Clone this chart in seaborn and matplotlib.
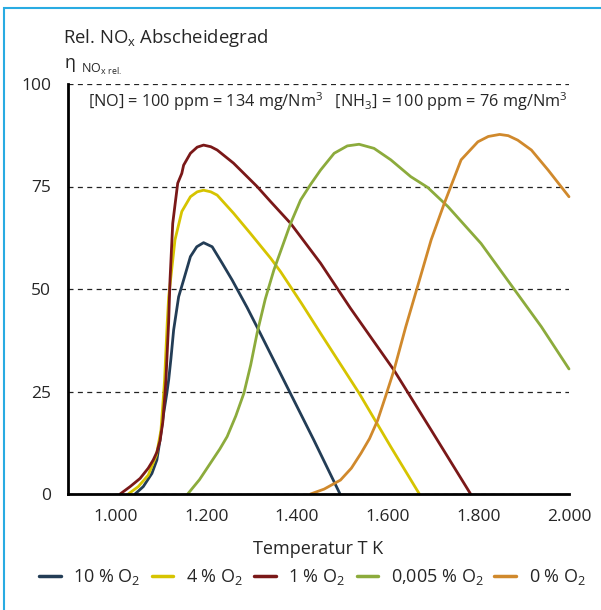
import pandas as pd
import matplotlib.pyplot as plt
import seaborn as sns
from matplotlib.patches import Rectangle

# values (temperature in K, relative NOx removal in %)
t_10 = [1043, 1061, 1080, 1091, 1098, 1106, 1113, 1117, 1122, 1128, 1139, 1150, 1165, 1179, 1194,
        1213, 1235, 1257, 1290, 1319, 1378, 1437, 1495]
eta_10 = [0, 1.8, 5.0, 8.3, 13.2, 19.7, 24.6, 27.8, 33.0, 40.0, 48.1, 52.2, 57.9, 60.3, 61.3,
          60.3, 56.3, 52.2, 45.5, 39.2, 26.2, 13.2, 0]

t_4 = [1028, 1050, 1072, 1090, 1100, 1106, 1108, 1111, 1114, 1117, 1122, 1131, 1146, 1165, 1180, 1194,
       1210, 1224, 1260, 1297, 1342, 1364, 1410, 1452, 1537, 1607, 1670]
eta_4 = [0, 1.8, 4.6, 9.5, 15.5, 24.6, 27.8, 35.0, 42.0, 48.0, 53.0, 62.0, 68.9, 72.5, 73.7, 74.1,
         73.7, 72.9, 68.5, 63.6, 57.5, 54.2, 46.5, 39.2, 24.6, 11.5, 0]

t_1 = [1010, 1032, 1054, 1072, 1083, 1091, 1098, 1104, 1109, 1111, 1114, 1117, 1120, 1126, 1131, 1137, 1146,
       1150, 1165, 1180, 1194, 1210, 1224, 1260, 1312, 1342, 1386, 1452, 1518, 1614, 1696, 1783]
eta_1 = [0, 1.8, 3.8, 6.3, 8.3, 10.2, 13.0, 17.5, 24.6, 27.8, 35.0, 42.0, 52.2, 66.0, 70.5, 75.8, 78.2,
         80.2, 83.1, 84.6, 85.1, 84.7, 83.9, 80.7, 75.0, 71.3, 66.0, 56.3, 45.3, 30.2, 15.6, 0]

t_005 = [1159, 1185, 1209, 1230, 1246, 1265, 1283, 1298, 1312, 1330, 1349, 1386, 1408, 1430, 1452,
         1482, 1511, 1537, 1570, 1607, 1651, 1688, 1733, 1806, 1880, 1939, 2000]
eta_005 = [0, 3.5, 7.5, 11.0, 14.0, 19.0, 24.6, 31.5, 39.2, 47.5, 54.6, 66.0, 71.7, 75.5, 79.0,
           83.1, 84.9, 85.3, 84.3, 81.5, 77.4, 74.8, 70.1, 61.1, 49.8, 40.8, 30.5]

t_0 = [1430, 1460, 1496, 1520, 1541, 1560, 1578, 1596, 1614, 1640, 1666, 1696, 1725, 1762, 1799,
       1822, 1847, 1866, 1887, 1917, 1954, 2000]
eta_0 = [0, 1.2, 3.4, 6.3, 9.9, 13.5, 18.0, 24.0, 30.2, 40.8, 50.6, 62.0, 70.9, 81.5, 85.9,
         87.2, 87.7, 87.4, 86.3, 83.9, 79.0, 72.5]

series_labels = ["10 % O$_\\mathregular{2}$", "4 % O$_\\mathregular{2}$", "1 % O$_\\mathregular{2}$",
                 "0,005 % O$_\\mathregular{2}$", "0 % O$_\\mathregular{2}$"]
colors = ["#233d56", "#d6c400", "#7a1818", "#8cab3c", "#d0892c"]
x_ticks = [1000, 1200, 1400, 1600, 1800, 2000]
x_ticklabels = ["1.000", "1.200", "1.400", "1.600", "1.800", "2.000"]
y_ticks = [0, 25, 50, 75, 100]

frames = []
for lab, t, e in zip(series_labels, [t_10, t_4, t_1, t_005, t_0], [eta_10, eta_4, eta_1, eta_005, eta_0]):
    frames.append(pd.DataFrame({"T": t, "eta": e, "Serie": lab}))
df = pd.concat(frames, ignore_index=True)

sns.set_style("white")
plt.rcParams["font.family"] = ["Open Sans", "DejaVu Sans"]
plt.rcParams["mathtext.fontset"] = "custom"
plt.rcParams["mathtext.rm"] = "Open Sans"

fig = plt.figure(figsize=(6.01, 6.10), dpi=100)
ax = fig.add_axes([68 / 601, 1 - 494 / 610, (569 - 68) / 601, (494 - 84) / 610])

sns.lineplot(data=df, x="T", y="eta", hue="Serie", palette=colors, estimator=None,
             sort=False, linewidth=2.0, ax=ax, legend=False, clip_on=False)

ax.set_xlim(895, 2000)
ax.set_ylim(0, 100)
ax.set_xticks(x_ticks)
ax.set_xticklabels(x_ticklabels)
ax.set_yticks(y_ticks)
ax.tick_params(axis="x", direction="out", length=5.5, width=1.4, labelsize=12.5, pad=5)
ax.tick_params(axis="y", direction="inout", length=7, width=1.4, labelsize=12.5, pad=8.5)
for s in ["top", "right"]:
    ax.spines[s].set_visible(False)
for s in ["left", "bottom"]:
    ax.spines[s].set_linewidth(2.0)
    ax.spines[s].set_color("black")
ax.yaxis.grid(True, color="#222222", linestyle=(0, (4, 3.5)), linewidth=0.9)
ax.set_axisbelow(True)

ax.set_xlabel("Temperatur T K", fontsize=13, labelpad=11)
ax.set_ylabel("")

ax.text(939, 95.6, "[NO] = 100 ppm = 134 mg/Nm$^\\mathregular{3}$   [NH$_\\mathregular{3}$] = 100 ppm = 76 mg/Nm$^\\mathregular{3}$",
        fontsize=11.7, ha="left", va="center")

fig.text(63 / 601, 1 - 38 / 610, "Rel. NO$_\\mathregular{x}$ Abscheidegrad", fontsize=13.3, va="center", ha="left")
fig.text(65 / 601, 1 - 63 / 610, "η", fontsize=13, va="center", ha="left")
fig.text(81 / 601, 1 - 69 / 610, "NO$_\\mathregular{x\\ rel.}$", fontsize=9, va="center", ha="left")

handles = [plt.Line2D([], [], color=c, linewidth=2.5) for c in colors]
fig.legend(handles, series_labels, loc="center", bbox_to_anchor=(0.52, 1 - 577 / 610), ncol=5,
           frameon=False, fontsize=13, handlelength=1.2, handletextpad=0.7, columnspacing=0.6)

fig.add_artist(Rectangle((4 / 601, -0.1), 1.2, 1.1 - 8 / 610, transform=fig.transFigure,
                         fill=False, edgecolor="#29abe2", linewidth=1.5, clip_on=False))

plt.savefig("out.png", dpi=100)
